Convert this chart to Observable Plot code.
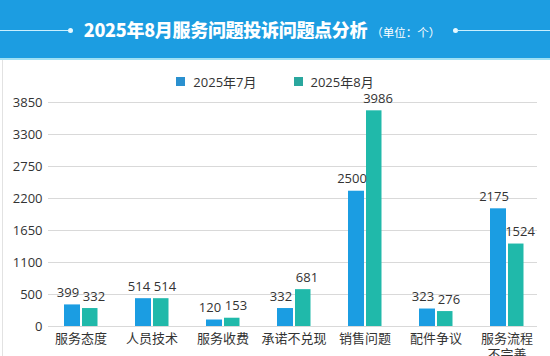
<!DOCTYPE html>
<html>
<head>
<meta charset="utf-8">
<script src="https://cdn.jsdelivr.net/npm/d3@7"></script>
<script src="https://cdn.jsdelivr.net/npm/@observablehq/plot@0.6"></script>
<style>
  html, body { margin: 0; padding: 0; background: #fff; }
  body { width: 550px; height: 356px; overflow: hidden; position: relative;
         font-family: "Open Sans", "Noto Sans CJK SC", sans-serif; color: #333; }
  #header { height: 58px; background: #1c9de1; border-bottom: 2px solid #9fe0f4; position: relative; }
  #title { position: absolute; left: 0; right: 0; top: 0; height: 58px; line-height: 58px; padding-right: 26px;
           text-align: center; color: #fff; white-space: nowrap; }
  #title .main { font-family: "Noto Sans CJK SC", sans-serif; font-weight: 900; font-size: 18px; letter-spacing: -0.3px; }
  #title .unit { font-family: "Noto Sans CJK SC", sans-serif; font-size: 11.5px; margin-left: 4px; }
  .hline { position: absolute; top: 30px; height: 1px; background: #c8f0ff; }
  .hdot { position: absolute; top: 28px; width: 5px; height: 5px; border-radius: 50%; background: #e6f9ff; }
  #legend { position: absolute; left: 0; right: 0; top: 70px; height: 22px; display: flex; justify-content: center; align-items: center;
            font-size: 13px; color: #333; }
  #legend .item { display: flex; align-items: center; }
  #legend .item + .item { margin-left: 37px; }
  #legend .sw { width: 9px; height: 9px; margin-right: 8px; }
  #leftborder { position: absolute; left: 2px; top: 60px; bottom: 0; width: 1px; background: #e2e2e2; }
  #chart { position: absolute; left: 0; top: 84px; }
  svg { display: block; }
</style>
</head>
<body>
<div id="header">
  <div class="hline" style="left:0;width:68px"></div>
  <div class="hdot" style="left:68px"></div>
  <div class="hdot" style="left:453px"></div>
  <div class="hline" style="left:457px;width:93px"></div>
  <div id="title"><span class="main">2025年8月服务问题投诉问题点分析</span><span class="unit">（单位：个）</span></div>
</div>
<div id="leftborder"></div>
<div id="legend"></div>
<div id="chart"></div>
<script>
// ---- data ----
const categories = ["服务态度", "人员技术", "服务收费", "承诺不兑现", "销售问题", "配件争议", "服务流程不完善"];
const seriesNames = ["2025年7月", "2025年8月"];
const july = [399, 514, 120, 332, 2500, 323, 2175];
const august = [332, 514, 153, 681, 3986, 276, 1524];
const yTicks = [0, 550, 1100, 1650, 2200, 2750, 3300, 3850];
const yTickLabels = ["0", "500", "1100", "1650", "2200", "2750", "3300", "3850"];
const colors = ["#1b9de2", "#20b9aa"];
const legendColors = ["#2a90cf", "#2aa79e"];
// the reference draws its bars at about 0.93 of the axis units
const barToAxis = 0.93;

const rows = [];
categories.forEach((c, i) => {
  rows.push({category: c, series: seriesNames[0], value: july[i]});
  rows.push({category: c, series: seriesNames[1], value: august[i]});
});
const julyRows = rows.filter(d => d.series === seriesNames[0]);
const augRows = rows.filter(d => d.series === seriesNames[1]);

// legend
const legend = document.getElementById("legend");
seriesNames.forEach((s, i) => {
  const item = document.createElement("div");
  item.className = "item";
  const sw = document.createElement("span");
  sw.className = "sw";
  sw.style.background = legendColors[i];
  const t = document.createElement("span");
  t.textContent = s;
  item.appendChild(sw); item.appendChild(t);
  legend.appendChild(item);
});

const fmtCat = d => d.length > 5 ? d.slice(0, 4) + "\n" + d.slice(4) : d;
const yLabel = new Map(yTicks.map((v, i) => [v, yTickLabels[i]]));

const chart = Plot.plot({
  width: 550,
  height: 272,
  marginLeft: 43,
  marginRight: 7,
  marginTop: 18,
  marginBottom: 30,
  style: {fontFamily: '"Open Sans", "Noto Sans CJK SC", sans-serif', fontSize: "13px", color: "#333", background: "transparent", overflow: "visible"},
  x: {domain: categories, padding: 0, label: null},
  y: {domain: [0, 3850], label: null},
  marks: [
    Plot.ruleY(yTicks, {stroke: "#d9d9d9", strokeWidth: 1, insetLeft: 5, insetRight: 6}),
    Plot.barY(julyRows, {x: "category", y: d => d.value * barToAxis, fill: colors[0], insetLeft: 19, insetRight: 36}),
    Plot.barY(augRows, {x: "category", y: d => d.value * barToAxis, fill: colors[1], insetLeft: 37, insetRight: 18.5}),
    Plot.text(julyRows, {x: "category", y: d => d.value * barToAxis, text: d => String(d.value), dx: -13, dy: -12, fill: "#333", fontSize: 13}),
    Plot.text(augRows, {x: "category", y: d => d.value * barToAxis, text: d => String(d.value), dx: 13, dy: -12, fill: "#333", fontSize: 13}),
    Plot.axisY({ticks: yTicks, tickSize: 0, tickPadding: 1, tickFormat: d => yLabel.get(d), fontSize: 13, fill: "#333", label: null}),
    Plot.axisX({tickSize: 0, tickPadding: 5, tickFormat: fmtCat, fontSize: 13, fill: "#333", label: null, lineHeight: 1.25})
  ]
});
document.getElementById("chart").appendChild(chart);
</script>
</body>
</html>
